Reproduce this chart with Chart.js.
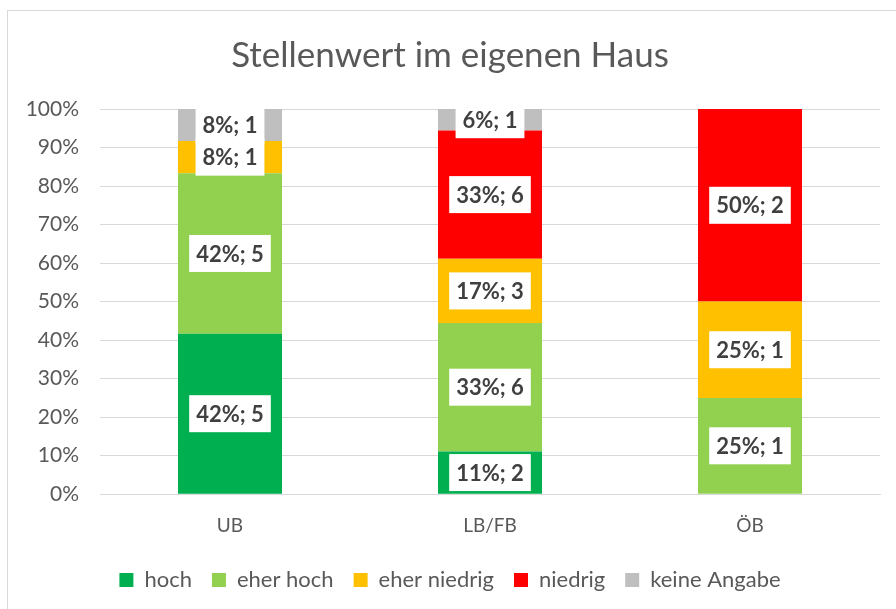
<!DOCTYPE html>
<html>
<head>
<meta charset="utf-8">
<script src="https://cdn.jsdelivr.net/npm/chart.js@4"></script>
<style>
  html, body { margin: 0; padding: 0; background: #fff; overflow: hidden; }
  #frame { position: absolute; left: 7px; top: 10px; width: 900px; height: 610px; border: 1px solid #d9d9d9; box-sizing: border-box; }
  #wrap { position: absolute; left: 0; top: 0; width: 896px; height: 609px; }
</style>
</head>
<body>
<div id="frame"></div>
<div id="wrap"><canvas id="chart"></canvas></div>
<script>
// --- DATA ---
const categories = ['UB', 'LB/FB', 'ÖB'];
const seriesNames = ['hoch', 'eher hoch', 'eher niedrig', 'niedrig', 'keine Angabe'];
const hoch = [5, 2, 0];
const eherHoch = [5, 6, 1];
const eherNiedrig = [1, 3, 1];
const niedrig = [0, 6, 2];
const keineAngabe = [1, 1, 0];
const yTicks = [0, 10, 20, 30, 40, 50, 60, 70, 80, 90, 100];

const colors = ['#00b050', '#92d050', '#ffc000', '#ff0000', '#bfbfbf'];
const counts = [hoch, eherHoch, eherNiedrig, niedrig, keineAngabe];
const totals = categories.map((_, i) => counts.reduce((s, arr) => s + arr[i], 0));

const TEXT = '#595959';
const FONT = 'Lato, "Open Sans", sans-serif';

// white boxes with "pct; n" inside each segment
const boxLabels = {
    id: 'boxLabels',
    afterDatasetsDraw(chart) {
        const ctx = chart.ctx;
        ctx.save();
        ctx.font = 'bold 22px ' + FONT;
        ctx.textAlign = 'center';
        ctx.textBaseline = 'middle';
        chart.data.datasets.forEach((ds, di) => {
            const meta = chart.getDatasetMeta(di);
            meta.data.forEach((bar, i) => {
                const n = ds.counts[i];
                if (!n) return;
                const pct = Math.round(n / totals[i] * 100);
                const txt = pct + '%; ' + n;
                const w = ctx.measureText(txt).width + 14;
                const h = 37;
                const cy = (bar.y + bar.base) / 2;
                ctx.fillStyle = '#ffffff';
                ctx.fillRect(bar.x - w / 2, cy - h / 2, w, h);
                ctx.fillStyle = '#404040';
                ctx.fillText(txt, bar.x, cy + 1);
            });
        });
        ctx.restore();
    }
};

const ctx = document.getElementById('chart').getContext('2d');
new Chart(ctx, {
    type: 'bar',
    data: {
        labels: categories,
        datasets: seriesNames.map((name, k) => ({
            label: name,
            counts: counts[k],
            data: counts[k].map((v, i) => v / totals[i] * 100),
            backgroundColor: colors[k],
            borderWidth: 0,
            barPercentage: 0.8,
            categoryPercentage: 0.5
        }))
    },
    options: {
        responsive: true,
        maintainAspectRatio: false,
        animation: false,
        layout: { padding: { left: 20, right: 16, top: 20, bottom: 8 } },
        plugins: {
            title: {
                display: true,
                text: 'Stellenwert im eigenen Haus',
                color: TEXT,
                font: { family: FONT, size: 35, weight: 'normal' },
                padding: { top: 15, bottom: 32 }
            },
            legend: {
                position: 'bottom',
                labels: {
                    color: TEXT,
                    font: { family: FONT, size: 22 },
                    boxWidth: 14,
                    boxHeight: 14,
                    padding: 20
                }
            },
            tooltip: { enabled: false }
        },
        scales: {
            x: {
                stacked: true,
                grid: { display: false },
                border: { color: '#d9d9d9' },
                ticks: { color: TEXT, font: { family: FONT, size: 19 }, padding: 12 }
            },
            y: {
                stacked: true,
                min: 0,
                max: 100,
                afterBuildTicks: (axis) => { axis.ticks = yTicks.map(v => ({ value: v })); },
                afterFit: (axis) => { axis.width = 80; },
                grid: { color: '#d9d9d9', drawTicks: false },
                border: { display: false },
                ticks: {
                    color: TEXT,
                    font: { family: FONT, size: 21 },
                    padding: 21,
                    callback: v => v + '%'
                }
            }
        }
    },
    plugins: [boxLabels]
});
</script>
</body>
</html>
